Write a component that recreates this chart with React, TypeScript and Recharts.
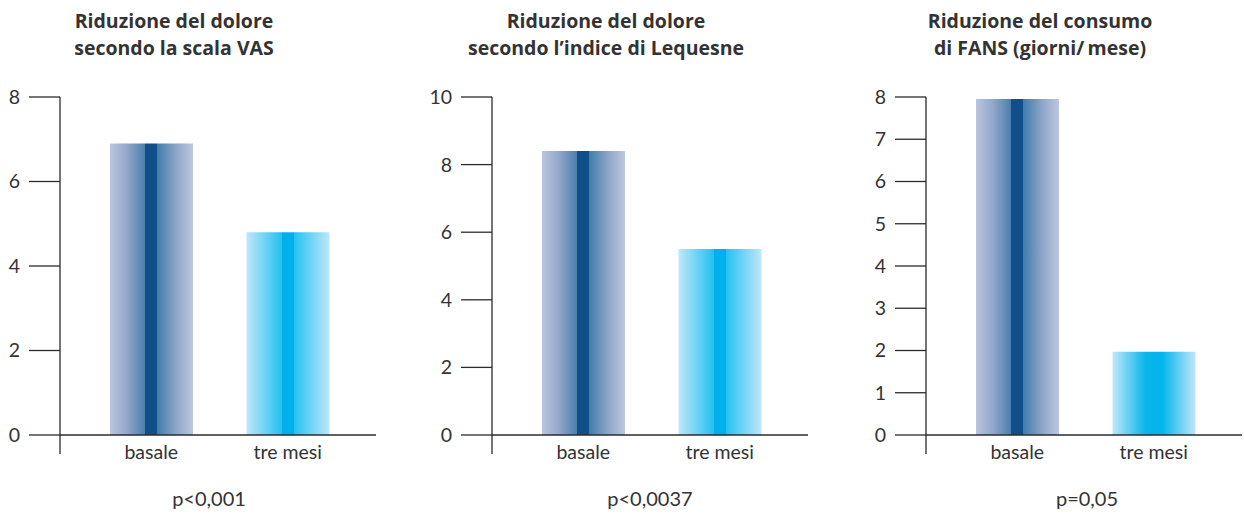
import React from "react";
import { BarChart, Bar, XAxis, YAxis, ReferenceLine, Cell } from "recharts";

const categories = ["basale", "tre mesi"];
const vasValues = [6.9, 4.8];
const lequesneValues = [8.4, 5.5];
const fansValues = [7.95, 1.97];
const vasTicks = [0, 2, 4, 6, 8];
const lequesneTicks = [0, 2, 4, 6, 8, 10];
const fansTicks = [0, 1, 2, 3, 4, 5, 6, 7, 8];
const titles = [
  ["Riduzione del dolore", "secondo la scala VAS"],
  ["Riduzione del dolore", "secondo l\u2019indice di Lequesne"],
  ["Riduzione del consumo", "di FANS (giorni/\u2009mese)"],
];
const pValues = ["p<0,001", "p<0,0037", "p=0,05"];

const FONT = "Lato, 'Open Sans', sans-serif";
const TITLE_FONT = "'Open Sans', Lato, sans-serif";
const INK = "#333333";
const AXIS = "#2b2b2b";

const Y_W = 72;
const CHART_W = Y_W + 320;
const CHART_H = 470;
const PLOT_TOP = 97;
const ZERO_Y = 435;

function XTick(props: any) {
  const { x, y, payload } = props;
  return (
    <text x={x} y={y + 5} textAnchor="middle" fontFamily={FONT} fontSize={19.5} fill={INK}>
      {payload.value}
    </text>
  );
}

type PanelProps = {
  id: string;
  values: number[];
  ticks: number[];
  axisX: number;
  softSecond?: boolean;
};

function Panel({ id, values, ticks, axisX, softSecond }: PanelProps) {
  const max = ticks[ticks.length - 1];
  // let the y axis run a little below zero, as in the printed figure
  const plotH = CHART_H - 16 - PLOT_TOP;
  const lo = max - (max * plotH) / (ZERO_Y - PLOT_TOP);
  const data = categories.map((name, i) => ({ name, value: values[i] }));
  return (
    <div style={{ position: "absolute", left: axisX - Y_W, top: 0 }}>
      <BarChart width={CHART_W} height={CHART_H} data={data} margin={{ top: PLOT_TOP, right: 4, left: 0, bottom: 0 }}>
        <defs>
          <linearGradient id={`${id}-dark`} x1="0" y1="0" x2="1" y2="0">
            <stop offset="0" stopColor="#bac5df" />
            <stop offset="0.2" stopColor="#93a8cb" />
            <stop offset="0.42" stopColor="#4a80ae" />
            <stop offset="0.42" stopColor="#0f4f8a" />
            <stop offset="0.566" stopColor="#0f4f8a" />
            <stop offset="0.566" stopColor="#3d7caa" />
            <stop offset="0.8" stopColor="#8ea6c9" />
            <stop offset="1" stopColor="#bcc7e0" />
          </linearGradient>
          <linearGradient id={`${id}-light`} x1="0" y1="0" x2="1" y2="0">
            <stop offset="0" stopColor="#c0e7f9" />
            {softSecond ? (
              <>
                <stop offset="0.4" stopColor="#08b5ec" />
                <stop offset="0.6" stopColor="#04b4ec" />
              </>
            ) : (
              <>
                <stop offset="0.43" stopColor="#22c0f0" />
                <stop offset="0.43" stopColor="#00b0ec" />
                <stop offset="0.57" stopColor="#00b0ec" />
                <stop offset="0.57" stopColor="#22c2f1" />
              </>
            )}
            <stop offset="1" stopColor="#c0e7f9" />
          </linearGradient>
        </defs>
        <XAxis
          dataKey="name"
          axisLine={false}
          tickLine={false}
          tickSize={0}
          tickMargin={0}
          height={16}
          padding={{ left: 23, right: 20 }}
          tick={<XTick />}
          interval={0}
        />
        <YAxis
          type="number"
          domain={[lo, max]}
          ticks={ticks}
          allowDataOverflow
          width={Y_W}
          tickSize={31}
          tickMargin={9}
          axisLine={{ stroke: AXIS, strokeWidth: 1.3 }}
          tickLine={{ stroke: AXIS, strokeWidth: 1.3 }}
          tick={{ fontFamily: FONT, fontSize: 19.5, fill: INK }}
        />
        <Bar dataKey="value" barSize={83} isAnimationActive={false}>
          {data.map((d, i) => (
            <Cell key={d.name} fill={`url(#${id}-${i === 0 ? "dark" : "light"})`} />
          ))}
        </Bar>
        <ReferenceLine y={0} stroke={AXIS} strokeWidth={1.3} />
      </BarChart>
    </div>
  );
}

const titleCenters = [174, 606, 1040];
const pCenters = [209, 650, 1087];

export default function App() {
  return (
    <div style={{ position: "absolute", left: 0, top: 0, width: 1244, height: 516, background: "#fff", overflow: "hidden" }}>
      <Panel id="vas" values={vasValues} ticks={vasTicks} axisX={60} />
      <Panel id="leq" values={lequesneValues} ticks={lequesneTicks} axisX={492} />
      <Panel id="fans" values={fansValues} ticks={fansTicks} axisX={926} softSecond />
      <svg width={1244} height={516} style={{ position: "absolute", left: 0, top: 0, pointerEvents: "none" }}>
        {titles.map((lines, i) => (
          <text key={i} textAnchor="middle" fontFamily={TITLE_FONT} fontWeight={700} fontSize={19.5} fill={INK}>
            <tspan x={titleCenters[i]} y={28}>{lines[0]}</tspan>
            <tspan x={titleCenters[i]} y={55}>{lines[1]}</tspan>
          </text>
        ))}
        {pValues.map((p, i) => (
          <text key={p} x={pCenters[i]} y={506} textAnchor="middle" fontFamily={FONT} fontSize={20} fill={INK}>
            {p}
          </text>
        ))}
      </svg>
    </div>
  );
}
